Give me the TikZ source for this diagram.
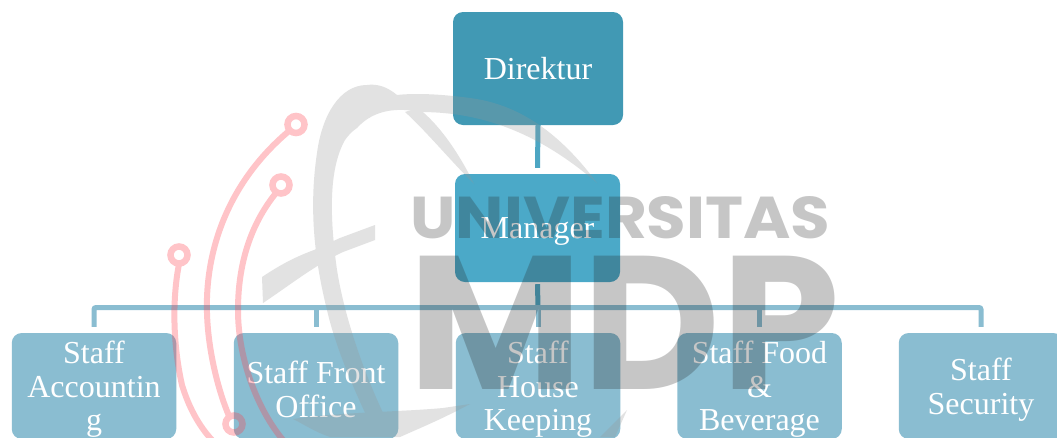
\documentclass[tikz,border=0pt]{standalone}
\usepackage{fontspec}
\setmainfont{Liberation Serif}
\newfontfamily\wmfont{Poppins}
\definecolor{boxtop}{HTML}{4199B4}
\definecolor{boxmid}{HTML}{4BA9C8}
\definecolor{boxlow}{HTML}{8ABDD1}
\definecolor{linkup}{HTML}{4DA6C3}
\definecolor{wmpink}{RGB}{255,60,75}
\definecolor{wmglobe}{RGB}{151,151,151}
\definecolor{wmdark}{RGB}{36,36,36}
\tikzset{
  orgbox/.style={rectangle,rounded corners=10pt,inner sep=0pt,text=white,align=center,
    font=\fontsize{32}{33.5}\selectfont},
  lowtext/.style={text=white,align=center,inner sep=0pt,yshift=-3.5pt,
    font=\fontsize{32}{33.5}\selectfont},
  staffbox/.style={orgbox,fill=boxlow,minimum width=164.5pt,minimum height=106pt},
  linkupper/.style={draw=linkup,line width=5pt},
  linklow/.style={draw=boxlow,line width=5pt},
  pinkarc/.style={draw=wmpink,line width=6pt},
  pinkring/.style={draw=wmpink,line width=6.5pt},
}
\begin{document}
\begin{tikzpicture}[x=1pt,y=-1pt]
\clip (0,0) rectangle (1057,437);
\fill[white] (0,0) rectangle (1057,437);
% boxes
\node[orgbox,fill=boxtop,minimum width=170pt,minimum height=113pt] (dir) at (538,68.5) {Direktur};
\node[orgbox,fill=boxmid,minimum width=165pt,minimum height=108pt,label={[lowtext]center:Manager}] (mgr) at (537.5,228) {};
\node[staffbox,label={[lowtext]center:{Staff\\Accountin\\g}}] (s1) at (94,386) {};
\node[staffbox,label={[lowtext]center:{Staff Front\\Office}}] (s2) at (316,386) {};
\node[staffbox,label={[lowtext]center:{Staff\\House\\Keeping}}] (s3) at (538,386) {};
\node[staffbox,label={[lowtext]center:{Staff Food\\\&\\Beverage}}] (s4) at (759.5,386) {};
\node[staffbox,label={[lowtext]center:{Staff\\Security}}] (s5) at (981,386) {};
% connectors
\coordinate (bus) at (538,307.5);
\draw[linkupper] (dir.south) -- ([yshift=6pt]mgr.north);
\draw[linkupper] ([yshift=-2pt]mgr.south) -- (bus);
\draw[linklow,rounded corners=2pt] ([yshift=6pt]s1.north) |- (bus) -| ([yshift=6pt]s5.north);
\draw[linklow] (bus) -- ([yshift=6pt]s3.north);
\draw[linklow] ([yshift=6pt]s2.north) -- (s2.north |- bus);
\draw[linklow] ([yshift=6pt]s4.north) -- (s4.north |- bus);
% watermark: globe
\begin{scope}[transparency group,opacity=.28]
\fill[wmglobe] (357,128) .. controls (375,108) and (400,108) .. (420,112)
  .. controls (470,112) and (530,125) .. (597,183)
  .. controls (565,140) and (525,105) .. (470,98)
  .. controls (440,94) and (415,93) .. (397,95)
  .. controls (385,85) and (375,84) .. (367,85)
  .. controls (340,85) and (322,115) .. (317,153)
  .. controls (310,200) and (312,250) .. (327,310)
  .. controls (335,345) and (352,385) .. (367,417) -- (385,417)
  .. controls (365,375) and (345,320) .. (337,270)
  .. controls (330,220) and (328,170) .. (345,140)
  .. controls (350,133) and (354,130) .. cycle;
\fill[wmglobe] (418,108) .. controls (440,125) and (460,155) .. (474,184)
  .. controls (450,160) and (425,130) .. (405,112) -- cycle;
\fill[wmglobe] (262,277) .. controls (280,265) and (295,257) .. (314,250)
  -- (340,238) -- (375,225) -- (375,240) -- (343,252)
  .. controls (315,265) and (290,285) .. (263,303) -- cycle;
\fill[wmglobe] (293,419) .. controls (340,412) and (400,412) .. (443,408)
  -- (470,404) .. controls (440,420) and (420,428) .. (400,437) -- (330,437) .. controls (315,432) and (305,425) .. cycle;
\fill[wmglobe] (600,437) -- (627,410) -- (615,437) -- cycle;
\end{scope}
% watermark: pink circuit
\begin{scope}[transparency group,opacity=.3]
\draw[pinkarc] (289,131) .. controls (225,185) and (205,255) .. (207,313)
  .. controls (208,350) and (218,390) .. (229,416);
\draw[pinkarc] (276,193) .. controls (250,225) and (238,265) .. (238,310)
  .. controls (238,360) and (258,410) .. (283,440);
\draw[pinkarc] (179,264) .. controls (172,300) and (173,345) .. (182,385)
  .. controls (188,405) and (198,425) .. (212,440);
\draw[pinkring] (296,124.5) circle (8.5pt);
\draw[pinkring] (281,185) circle (8.5pt);
\draw[pinkring] (179,255) circle (8.5pt);
\draw[pinkring] (234,424) circle (8.5pt);
\end{scope}
% watermark: wordmark
\node[text=wmdark,opacity=.26,inner sep=0pt,font=\wmfont\fontsize{59}{59}\selectfont\bfseries] (wmu) at (620.5,218) {\scalebox{1.09}[1]{UNIVERSITAS}};
\node[text=wmdark,opacity=.26,inner sep=0pt,font=\wmfont\fontsize{190}{190}\selectfont\bfseries] (wmm) at (624,322.5) {MDP};
\end{tikzpicture}
\end{document}
